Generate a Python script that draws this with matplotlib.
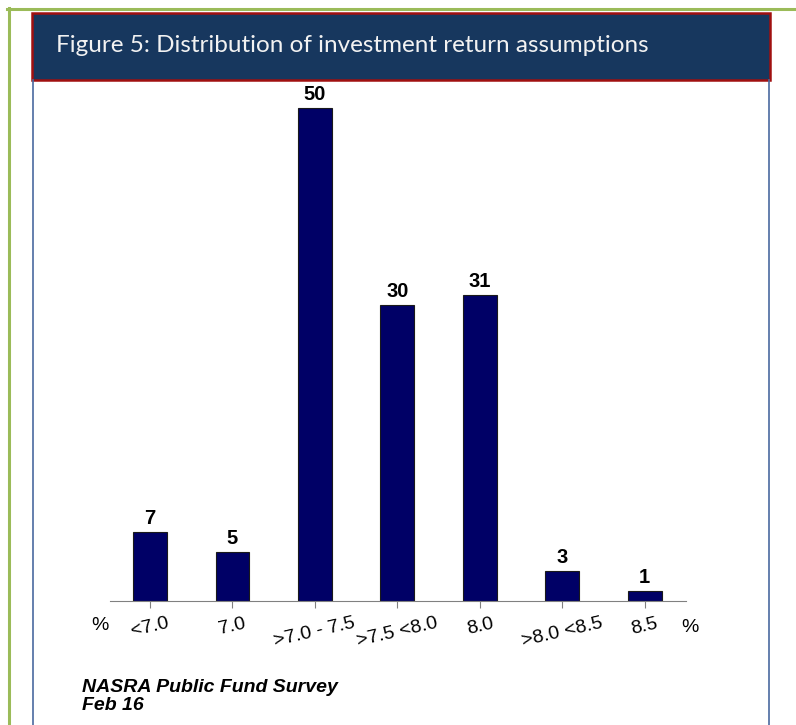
import matplotlib.pyplot as plt
from matplotlib.patches import Rectangle
from matplotlib.lines import Line2D

# data
categories = ["<7.0", "7.0", ">7.0 - 7.5", ">7.5 <8.0", "8.0", ">8.0 <8.5", "8.5"]
counts = [7, 5, 50, 30, 31, 3, 1]

W, H = 796, 725
fig = plt.figure(figsize=(W / 100, H / 100), dpi=100)


def fx(px):
    return px / W


def fy(py):
    return 1 - py / H


# green frame lines
fig.add_artist(Line2D([fx(7), fx(796)], [fy(8.5), fy(8.5)], color="#9bbb59", lw=2.2))
fig.add_artist(Line2D([fx(8.5), fx(8.5)], [fy(8), fy(725)], color="#9bbb59", lw=2.2))

# blue side lines
fig.add_artist(Line2D([fx(33), fx(33)], [fy(80), fy(725)], color="#4a6aa0", lw=1.2))
fig.add_artist(Line2D([fx(768.5), fx(768.5)], [fy(80), fy(725)], color="#4a6aa0", lw=1.2))

# title box
fig.add_artist(Rectangle((fx(32), fy(80)), fx(770) - fx(32), fy(13) - fy(80),
                         transform=fig.transFigure, facecolor="#17375e",
                         edgecolor="#a01010", lw=1.8))
fig.text(fx(56), fy(45), "Figure 5: Distribution of investment return assumptions",
         color="#f2f2f2", fontsize=17.5, family="Lato", va="center", ha="left")

# axes
ax = fig.add_axes([fx(110), fy(601), fx(686) - fx(110), fy(58.7) - fy(601)])
x = range(len(categories))
ax.bar(x, counts, width=0.41, color="#000066", edgecolor="#1a1a1a", linewidth=0.8)
for xi, c in zip(x, counts):
    ax.text(xi, c + 0.4, str(c), ha="center", va="bottom", fontsize=14.5,
            fontweight="bold", family="Liberation Sans")

ax.set_xlim(-0.485, 6.5)
ax.set_ylim(0, 55)
for s in ["top", "right", "left"]:
    ax.spines[s].set_visible(False)
ax.spines["bottom"].set_color("#808080")
ax.set_yticks([])
ax.set_xticks(list(x))
ax.set_xticklabels(categories, rotation=13, fontsize=14, family="Liberation Sans")
ax.tick_params(axis="x", length=5, color="#808080", pad=5)

fig.text(fx(100), fy(625), "%", fontsize=14, family="Liberation Sans", ha="center", va="center")
fig.text(fx(690), fy(627), "%", fontsize=14, family="Liberation Sans", ha="center", va="center")

# source
fig.text(fx(82), fy(688), "NASRA Public Fund Survey", fontsize=14, fontweight="bold",
         style="italic", family="Liberation Sans", va="center")
fig.text(fx(82), fy(706), "Feb 16", fontsize=14, fontweight="bold",
         style="italic", family="Liberation Sans", va="center")

fig.savefig("out.png", dpi=100)
